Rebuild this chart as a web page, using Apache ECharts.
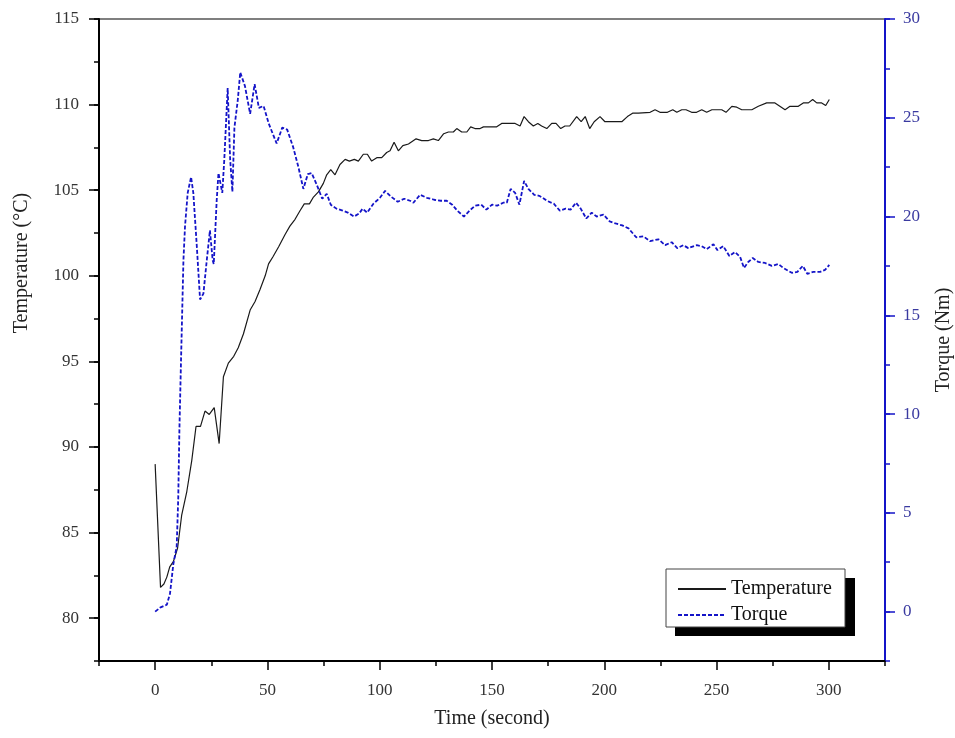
<!DOCTYPE html>
<html><head><meta charset="utf-8">
<script src="https://cdn.jsdelivr.net/npm/echarts@6/dist/echarts.min.js"></script>
<style>html,body{margin:0;padding:0;background:#fff}#c{width:955px;height:738px}</style>
</head><body><div id="c"></div>
<script>
const tempTime = [0,2.4,3.9,5.2,6.5,8.1,10.0,11.8,14.1,16.3,18.2,20.2,22.2,24.1,26.3,28.5,30.4,32.6,35.0,37.0,39.3,42.3,44.5,46.7,49.0,50.5,52.4,55.0,57.8,60.0,62.3,64.5,66.4,68.7,70.5,72.7,74.9,76.4,78.2,80.1,82.3,84.6,86.5,88.7,90.5,92.7,94.5,96.4,98.7,100.9,103.1,104.6,106.4,108.3,110.3,112.8,116.2,118.7,121.7,123.9,126.1,128.5,130.6,132.8,134.3,136.5,138.8,140.5,142.4,144.7,146.2,149.1,152.1,154.3,158.0,160.3,162.5,164.3,166.2,168.4,170.4,172.1,174.4,176.6,178.5,180.6,182.5,184.6,187.7,189.7,191.5,193.5,195.5,198.1,200.3,204.0,207.8,210.3,212.6,215.2,220.4,222.6,224.8,228.1,230.5,232.3,234.5,236.4,238.9,241.1,243.4,245.6,247.9,252.3,254.2,256.8,259.0,261.2,265.7,268.6,272.3,276.0,280.5,282.7,286.4,288.6,290.9,292.8,294.6,296.8,298.6,300.2];
const tempValues = [89.0,81.8,82.0,82.4,83.0,83.3,84.1,86.0,87.4,89.2,91.2,91.2,92.1,91.9,92.3,90.2,94.1,94.9,95.3,95.8,96.6,98.0,98.5,99.2,100.0,100.7,101.1,101.7,102.4,102.9,103.3,103.8,104.2,104.2,104.6,104.9,105.4,105.9,106.2,105.9,106.5,106.8,106.7,106.8,106.7,107.1,107.1,106.7,106.9,106.9,107.2,107.3,107.8,107.3,107.6,107.7,108.0,107.9,107.9,108.0,107.9,108.3,108.4,108.4,108.6,108.4,108.4,108.7,108.6,108.6,108.7,108.7,108.7,108.9,108.9,108.9,108.75,109.3,109.0,108.75,108.9,108.75,108.6,108.9,108.9,108.6,108.75,108.75,109.3,109.0,109.3,108.6,109.0,109.3,109.0,109.0,109.0,109.3,109.5,109.5,109.55,109.7,109.55,109.55,109.7,109.55,109.7,109.7,109.55,109.55,109.7,109.55,109.7,109.7,109.55,109.9,109.85,109.7,109.7,109.9,110.1,110.1,109.7,109.9,109.9,110.1,110.1,110.3,110.1,110.1,109.95,110.3];
const torqueTime = [0,2.2,5.2,6.6,8.1,9.6,10.3,10.8,11.5,12.6,13.3,14.5,16.0,17.0,18.5,20.0,21.5,23.0,24.4,25.6,26.1,27.4,28.2,29.9,30.8,32.3,33.4,34.4,35.3,36.8,37.9,40.0,42.3,44.3,46.2,48.3,50.6,54.1,56.6,58.8,61.5,63.8,66.0,68.0,69.7,72.0,74.4,76.4,78.2,80.7,83.5,85.8,88.6,90.8,92.4,94.4,97.2,100.1,102.4,105.1,108.0,110.9,113.5,115.0,118.0,121.0,124.2,127.2,129.8,132.3,134.5,137.5,140.0,142.5,145.2,147.5,150.0,152.3,155.0,156.6,158.3,160.3,162.2,164.3,166.2,168.8,171.0,172.6,174.4,177.5,180.2,182.8,185.0,187.4,189.5,192.0,194.4,196.6,199.6,202.4,205.0,208.0,210.8,214.2,217.4,220.4,224.1,227.1,230.0,232.5,235.2,237.4,241.2,243.4,245.6,248.6,250.4,253.0,255.7,258.2,260.5,262.2,264.1,266.1,268.6,271.6,274.6,277.5,279.7,283.5,286.0,288.4,290.4,293.1,296.1,298.3,300.2];
const torqueValues = [0.0,0.2,0.35,0.9,2.4,3.3,5.8,9.2,12.6,17.8,19.5,21.2,22.0,21.2,18.6,15.8,16.1,17.8,19.3,17.8,17.6,20.8,22.2,21.2,22.9,26.5,22.9,21.25,24.5,25.9,27.3,26.6,25.2,26.7,25.5,25.6,24.7,23.7,24.5,24.4,23.5,22.5,21.4,22.15,22.2,21.6,20.9,21.15,20.6,20.4,20.3,20.2,20.0,20.15,20.4,20.2,20.65,20.95,21.3,21.0,20.75,20.9,20.8,20.7,21.1,20.95,20.85,20.8,20.8,20.6,20.3,20.0,20.3,20.55,20.6,20.35,20.6,20.55,20.7,20.7,21.4,21.2,20.6,21.8,21.4,21.1,21.05,20.95,20.8,20.65,20.3,20.4,20.35,20.7,20.4,19.9,20.2,20.0,20.1,19.75,19.65,19.55,19.4,18.95,19.0,18.75,18.85,18.55,18.7,18.4,18.55,18.4,18.55,18.5,18.35,18.6,18.3,18.5,18.0,18.2,17.95,17.4,17.7,17.9,17.7,17.65,17.5,17.6,17.4,17.15,17.2,17.5,17.1,17.2,17.2,17.3,17.55];
const xMajorTicks = [0,50,100,150,200,250,300];
const tempMajorTicks = [80,85,90,95,100,105,110,115];
const torqueMajorTicks = [0,5,10,15,20,25,30];

const FONT = 'Liberation Serif';
const blue = '#1414c8';
const chart = echarts.init(document.getElementById('c'), null, {renderer:'canvas'});
const isMajor = v => Math.abs(v / 5 - Math.round(v / 5)) < 1e-6;
const isMajorX = v => Math.abs(v / 50 - Math.round(v / 50)) < 1e-6;

chart.setOption({
  animation: false,
  backgroundColor: '#fff',
  grid: {left: 99, right: 70, top: 19, bottom: 77, show: true, borderColor: '#000', borderWidth: 1.2,
         containLabel: false, outerBoundsMode: 'none'},
  xAxis: [
    {type:'value', min:-25, max:325, interval:25, position:'bottom',
     name:'Time (second)', nameLocation:'middle', nameGap:48,
     nameTextStyle:{fontFamily:FONT, fontSize:20, color:'#222'},
     axisLine:{show:true, onZero:false, lineStyle:{color:'#000', width:2}},
     axisTick:{show:true, inside:false, length:5, lineStyle:{color:'#000', width:1.5}},
     axisLabel:{fontFamily:FONT, fontSize:17, color:'#333', margin:21, formatter: v => isMajorX(v) ? String(v) : ''},
     splitLine:{show:false}},
    {type:'value', min:-25, max:325, position:'bottom',
     axisLine:{show:false, onZero:false}, axisLabel:{show:false}, splitLine:{show:false},
     axisTick:{show:true, length:9, customValues:xMajorTicks, lineStyle:{color:'#000', width:1.5}}}
  ],
  yAxis: [
    {type:'value', min:77.5, max:115, interval:2.5, position:'left',
     axisLine:{show:true, onZero:false, lineStyle:{color:'#000', width:2}},
     axisTick:{show:true, length:5, lineStyle:{color:'#000', width:1.5}},
     axisLabel:{fontFamily:FONT, fontSize:17, color:'#333', margin:20, formatter: v => isMajor(v) ? String(v) : ''},
     splitLine:{show:false}},
    {type:'value', min:-2.5, max:30, interval:2.5, position:'right',
     name:'Torque (Nm)', nameLocation:'middle', nameGap:49, nameRotate:90,
     nameTextStyle:{fontFamily:FONT, fontSize:20, color:'#222'},
     axisLine:{show:true, onZero:false, lineStyle:{color:blue, width:2}},
     axisTick:{show:true, length:5, lineStyle:{color:blue, width:1.5}},
     axisLabel:{fontFamily:FONT, fontSize:17, color:'#3a3aa0', margin:18, formatter: v => isMajor(v) ? String(v) : ''},
     splitLine:{show:false}},
    {type:'value', min:77.5, max:115, position:'left',
     axisLine:{show:false, onZero:false}, axisLabel:{show:false}, splitLine:{show:false},
     axisTick:{show:true, length:10, customValues:tempMajorTicks, lineStyle:{color:'#000', width:1.5}}},
    {type:'value', min:-2.5, max:30, position:'right',
     axisLine:{show:false, onZero:false}, axisLabel:{show:false}, splitLine:{show:false},
     axisTick:{show:true, length:10, customValues:torqueMajorTicks, lineStyle:{color:blue, width:1.5}}}
  ],
  legend: {
    orient:'vertical', left:672, top:574, itemWidth:48, itemHeight:14, itemGap:6,
    textStyle:{fontFamily:FONT, fontSize:20, color:'#111'},
    itemStyle:{opacity:0},
    data:['Temperature','Torque'], z: 10
  },
  graphic: [
    {type:'rect', z:5, shape:{x:675, y:578, width:180, height:58}, style:{fill:'#000'}},
    {type:'rect', z:6, shape:{x:666, y:569, width:179, height:58}, style:{fill:'#fff', stroke:'#444', lineWidth:1}},
    {type:'text', z:6, x:22, y:263, rotation:Math.PI/2,
     style:{text:'Temperature (°C)', fontFamily:FONT, fontSize:20, fill:'#222', align:'center', verticalAlign:'middle'}}
  ],
  series: [
    {name:'Temperature', type:'line', xAxisIndex:0, yAxisIndex:0, symbol:'none', smooth:false,
     lineStyle:{color:'#1a1a1a', width:1.2}, itemStyle:{color:'#1a1a1a'},
     data: tempTime.map((t,i)=>[t, tempValues[i]])},
    {name:'Torque', type:'line', xAxisIndex:0, yAxisIndex:1, symbol:'none', smooth:false,
     lineStyle:{color:blue, width:1.8, type:[4,2]}, itemStyle:{color:blue},
     data: torqueTime.map((t,i)=>[t, torqueValues[i]])}
  ]
});
</script>
</body></html>
